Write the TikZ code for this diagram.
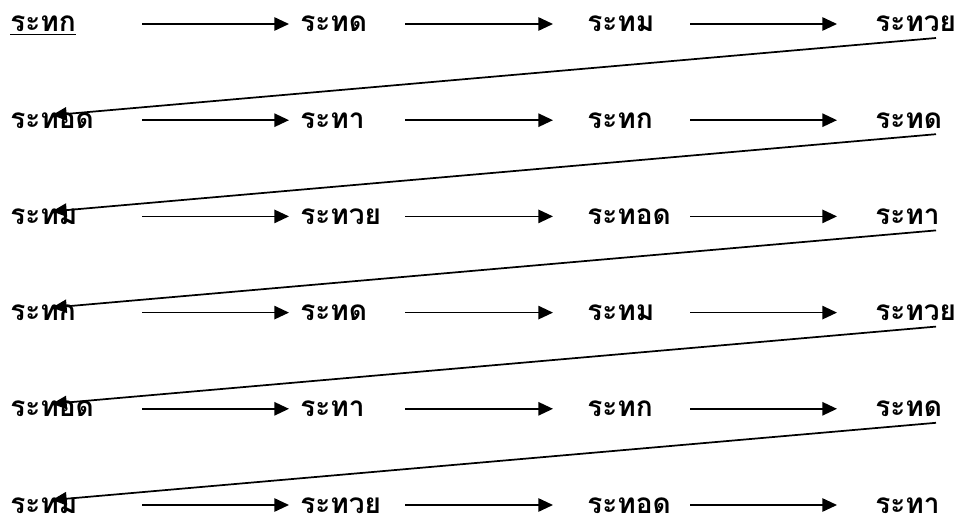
\documentclass[tikz,border=0pt]{standalone}
\usepackage{fontspec}
\newfontfamily\thaifont[Script=Thai]{Loma}
\usetikzlibrary{arrows.meta}
\newcommand{\ulword}[1]{\setbox0\hbox{#1}\rlap{\rule[-2.5pt]{\wd0}{1.1pt}}\box0}
\tikzset{
    word/.style = {anchor=base west, inner sep=0pt, font=\thaifont\bfseries\fontsize{21}{24}\selectfont},
    line/.style = {-{Triangle[length=11pt, width=10pt]}, line width=1.3pt}
}
\begin{document}
\begin{tikzpicture}[x=0.75pt, y=-0.75pt]
\useasboundingbox (0,0) rectangle (956,520);

% words, one row per line of the list
\foreach \r/\wordA/\wordB/\wordC/\wordD in {
    1/\ulword{ระทก}/ระทด/ระทม/ระทวย,
    2/ระทอด/ระทา/ระทก/ระทด,
    3/ระทม/ระทวย/ระทอด/ระทา,
    4/ระทก/ระทด/ระทม/ระทวย,
    5/ระทอด/ระทา/ระทก/ระทด,
    6/ระทม/ระทวย/ระทอด/ระทา}{
    \node[word] (w\r1) at (10, {32+96.2*(\r-1)}) {\wordA};
    \node[word] (w\r2) at (300, {32+96.2*(\r-1)}) {\wordB};
    \node[word] (w\r3) at (587, {32+96.2*(\r-1)}) {\wordC};
    \node[word] (w\r4) at (875, {32+96.2*(\r-1)}) {\wordD};
}

% arrows along each row
\foreach \r in {1,...,6}{
    \draw[line] ([shift={(132,-8)}]w\r1.base west) -- ([shift={(-11,-8)}]w\r2.base west);
    \draw[line] ([shift={(105,-8)}]w\r2.base west) -- ([shift={(-34,-8)}]w\r3.base west);
    \draw[line] ([shift={(103,-8)}]w\r3.base west) -- ([shift={(-38,-8)}]w\r4.base west);
}

% back to the start of the next row
\foreach \r/\n in {1/2, 2/3, 3/4, 4/5, 5/6}
    \draw[line] ([shift={(61,6)}]w\r4.base west) -- ([shift={(42,-13)}]w\n1.base west);

\end{tikzpicture}
\end{document}
